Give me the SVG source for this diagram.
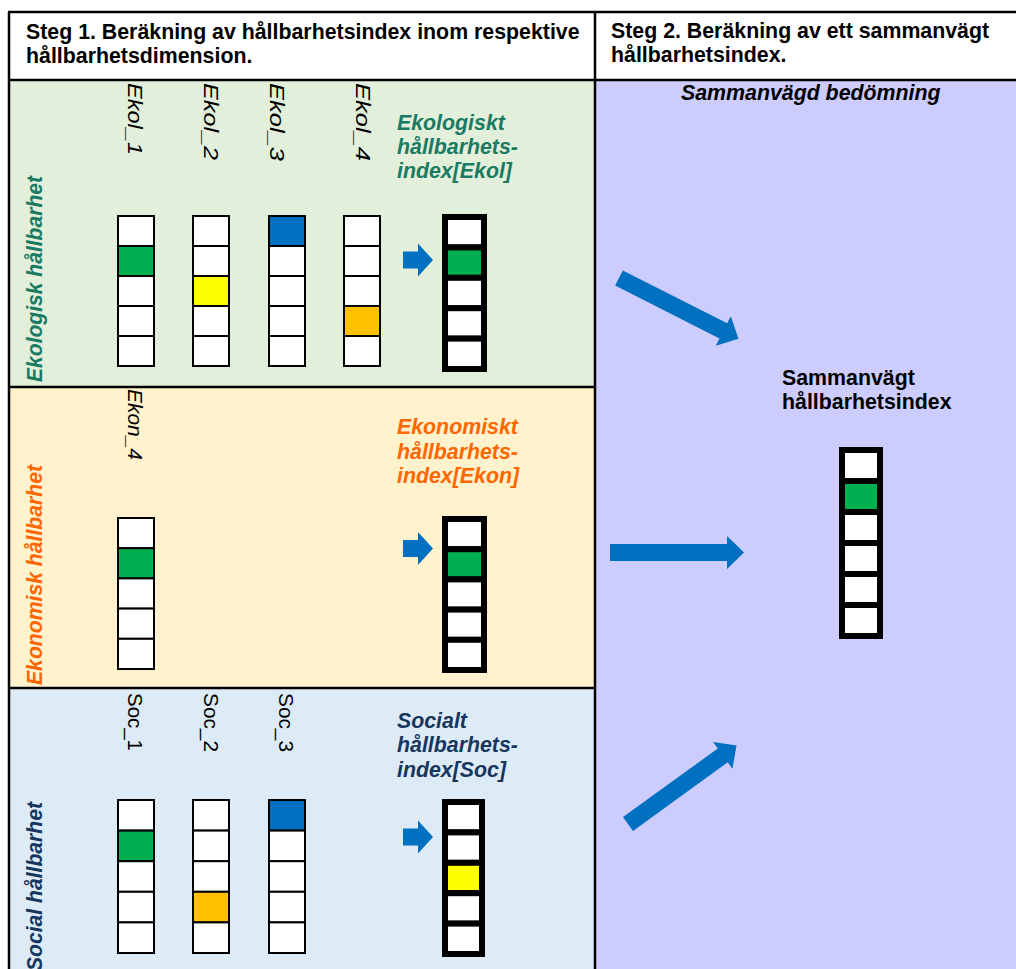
<svg xmlns="http://www.w3.org/2000/svg" width="1016" height="969" viewBox="0 0 1016 969">
<style>
.b{font-family:"Liberation Sans",Arial,sans-serif;font-weight:bold;font-size:21.33px}
.bi{font-family:"Liberation Sans",Arial,sans-serif;font-weight:bold;font-style:italic;font-size:21.33px}
.lab{font-family:"Liberation Sans",Arial,sans-serif;font-size:20px}
.it{font-style:italic}
.c{fill:#fff;stroke:#000;stroke-width:2}
.t{fill:#fff;stroke:#000;stroke-width:6}
.ln{stroke:#000;stroke-width:2.5;fill:none}
.g{fill:#00B050}.y{fill:#FFFF00}.bl{fill:#0070C0}.o{fill:#FFC000}
.teal{fill:#1A7A62}.org{fill:#FF6600}.navy{fill:#17365D}
.arr{fill:#0070C0}
</style>
<defs>
<path id="bigArrow" d="M0,-8.5 H117 V-16.5 L134,0 L117,16.5 V8.5 H0 Z"/>
<path id="smallArrow" d="M0,-8.5 H15 V-16.5 L30,0 L15,16.5 V8.5 H0 Z"/>
</defs>

<g id="backgrounds">
<rect x="8" y="12" width="1008" height="68" fill="#fff"/>
<rect x="8" y="80" width="587" height="307" fill="#E2EFDA"/>
<rect x="8" y="387" width="587" height="301" fill="#FFF2CC"/>
<rect x="8" y="688" width="587" height="281" fill="#DDEBF7"/>
<rect x="595" y="80" width="421" height="889" fill="#CCCCFF"/>
</g>

<g id="grid">
<line class="ln" x1="8" y1="12" x2="1016" y2="12"/>
<line class="ln" x1="9" y1="12" x2="9" y2="969"/>
<line class="ln" x1="8" y1="80" x2="1016" y2="80"/>
<line class="ln" x1="595" y1="12" x2="595" y2="969"/>
<line class="ln" x1="8" y1="387" x2="595" y2="387"/>
<line class="ln" x1="8" y1="688" x2="595" y2="688"/>
</g>

<g id="header1">
<text class="b" x="26" y="39">Steg 1. Beräkning av hållbarhetsindex inom respektive</text>
<text class="b" x="26" y="63">hållbarhetsdimension.</text>
</g>
<g id="header2">
<text class="b" x="611" y="38">Steg 2. Beräkning av ett sammanvägt</text>
<text class="b" x="611" y="62">hållbarhetsindex.</text>
<text class="bi" x="681" y="100">Sammanvägd bedömning</text>
</g>

<g id="ekol">
<text class="bi teal" font-size="20" transform="translate(42,382) rotate(-90)" textLength="206" lengthAdjust="spacingAndGlyphs">Ekologisk hållbarhet</text>
<text class="lab it" transform="translate(128,83) rotate(90)" textLength="72" lengthAdjust="spacingAndGlyphs">Ekol_1</text>
<text class="lab it" transform="translate(204,83) rotate(90)" textLength="77" lengthAdjust="spacingAndGlyphs">Ekol_2</text>
<text class="lab it" transform="translate(270,83) rotate(90)" textLength="78" lengthAdjust="spacingAndGlyphs">Ekol_3</text>
<text class="lab it" transform="translate(356,83) rotate(90)" textLength="78" lengthAdjust="spacingAndGlyphs">Ekol_4</text>
<g id="ekol1">
<rect class="c" x="118" y="216" width="36" height="30"/><rect class="c g" x="118" y="246" width="36" height="30"/><rect class="c" x="118" y="276" width="36" height="30"/><rect class="c" x="118" y="306" width="36" height="30"/><rect class="c" x="118" y="336" width="36" height="30"/>
</g>
<g id="ekol2">
<rect class="c" x="193" y="216" width="36" height="30"/><rect class="c" x="193" y="246" width="36" height="30"/><rect class="c y" x="193" y="276" width="36" height="30"/><rect class="c" x="193" y="306" width="36" height="30"/><rect class="c" x="193" y="336" width="36" height="30"/>
</g>
<g id="ekol3">
<rect class="c bl" x="269" y="216" width="36" height="30"/><rect class="c" x="269" y="246" width="36" height="30"/><rect class="c" x="269" y="276" width="36" height="30"/><rect class="c" x="269" y="306" width="36" height="30"/><rect class="c" x="269" y="336" width="36" height="30"/>
</g>
<g id="ekol4">
<rect class="c" x="344" y="216" width="36" height="30"/><rect class="c" x="344" y="246" width="36" height="30"/><rect class="c" x="344" y="276" width="36" height="30"/><rect class="c o" x="344" y="306" width="36" height="30"/><rect class="c" x="344" y="336" width="36" height="30"/>
</g>
<text class="bi teal"><tspan x="397" y="130">Ekologiskt</tspan><tspan x="397" y="154">hållbarhets-</tspan><tspan x="397" y="178">index[Ekol]</tspan></text>
<g id="ekolIndex">
<rect class="t" x="445" y="217" width="39" height="30.4"/><rect class="t g" x="445" y="247.4" width="39" height="30.4"/><rect class="t" x="445" y="277.8" width="39" height="30.4"/><rect class="t" x="445" y="308.2" width="39" height="30.4"/><rect class="t" x="445" y="338.6" width="39" height="30.4"/>
</g>
</g>

<g id="ekon">
<text class="bi org" font-size="20" transform="translate(42,685) rotate(-90)" textLength="220" lengthAdjust="spacingAndGlyphs">Ekonomisk hållbarhet</text>
<text class="lab it" transform="translate(128,389) rotate(90)" textLength="71" lengthAdjust="spacingAndGlyphs">Ekon_4</text>
<g id="ekon4">
<rect class="c" x="118" y="518" width="36" height="30.2"/><rect class="c g" x="118" y="548.2" width="36" height="30.2"/><rect class="c" x="118" y="578.4" width="36" height="30.2"/><rect class="c" x="118" y="608.6" width="36" height="30.2"/><rect class="c" x="118" y="638.8" width="36" height="30.2"/>
</g>
<text class="bi org"><tspan x="397" y="434">Ekonomiskt</tspan><tspan x="397" y="459">hållbarhets-</tspan><tspan x="397" y="483">index[Ekon]</tspan></text>
<g id="ekonIndex">
<rect class="t" x="445" y="519" width="39" height="30.2"/><rect class="t g" x="445" y="549.2" width="39" height="30.2"/><rect class="t" x="445" y="579.4" width="39" height="30.2"/><rect class="t" x="445" y="609.6" width="39" height="30.2"/><rect class="t" x="445" y="639.8" width="39" height="30.2"/>
</g>
</g>

<g id="soc">
<text class="bi navy" font-size="20" transform="translate(42,971) rotate(-90)" textLength="169" lengthAdjust="spacingAndGlyphs">Social hållbarhet</text>
<text class="lab" transform="translate(128,693) rotate(90)" textLength="58" lengthAdjust="spacingAndGlyphs">Soc_1</text>
<text class="lab" transform="translate(204,693) rotate(90)" textLength="59" lengthAdjust="spacingAndGlyphs">Soc_2</text>
<text class="lab" transform="translate(279,693) rotate(90)" textLength="59" lengthAdjust="spacingAndGlyphs">Soc_3</text>
<g id="soc1">
<rect class="c" x="118" y="800" width="36" height="30.6"/><rect class="c g" x="118" y="830.6" width="36" height="30.6"/><rect class="c" x="118" y="861.2" width="36" height="30.6"/><rect class="c" x="118" y="891.8" width="36" height="30.6"/><rect class="c" x="118" y="922.4" width="36" height="30.6"/>
</g>
<g id="soc2">
<rect class="c" x="193" y="800" width="36" height="30.6"/><rect class="c" x="193" y="830.6" width="36" height="30.6"/><rect class="c" x="193" y="861.2" width="36" height="30.6"/><rect class="c o" x="193" y="891.8" width="36" height="30.6"/><rect class="c" x="193" y="922.4" width="36" height="30.6"/>
</g>
<g id="soc3">
<rect class="c bl" x="269" y="800" width="36" height="30.6"/><rect class="c" x="269" y="830.6" width="36" height="30.6"/><rect class="c" x="269" y="861.2" width="36" height="30.6"/><rect class="c" x="269" y="891.8" width="36" height="30.6"/><rect class="c" x="269" y="922.4" width="36" height="30.6"/>
</g>
<text class="bi navy"><tspan x="397" y="728">Socialt</tspan><tspan x="397" y="752">hållbarhets-</tspan><tspan x="397" y="777">index[Soc]</tspan></text>
<g id="socIndex">
<rect class="t" x="445" y="802" width="37" height="30.4"/><rect class="t" x="445" y="832.4" width="37" height="30.4"/><rect class="t y" x="445" y="862.8" width="37" height="30.4"/><rect class="t" x="445" y="893.2" width="37" height="30.4"/><rect class="t" x="445" y="923.6" width="37" height="30.4"/>
</g>
</g>

<g id="combined">
<text class="b"><tspan x="782" y="385">Sammanvägt</tspan><tspan x="782" y="409">hållbarhetsindex</tspan></text>
<g id="combinedIndex">
<rect class="t" x="842" y="450" width="38" height="31"/><rect class="t g" x="842" y="481" width="38" height="31"/><rect class="t" x="842" y="512" width="38" height="31"/><rect class="t" x="842" y="543" width="38" height="31"/><rect class="t" x="842" y="574" width="38" height="31"/><rect class="t" x="842" y="605" width="38" height="31"/>
</g>
</g>

<g id="connectors" class="arr">
<use href="#smallArrow" transform="translate(403,260)"/>
<use href="#smallArrow" transform="translate(403,548.5)"/>
<use href="#smallArrow" transform="translate(403,837)"/>
<use href="#bigArrow" transform="translate(619,278) rotate(26.9)"/>
<use href="#bigArrow" transform="translate(610,552.5)"/>
<use href="#bigArrow" transform="translate(628,824) rotate(-35.9)"/>
</g>
</svg>
